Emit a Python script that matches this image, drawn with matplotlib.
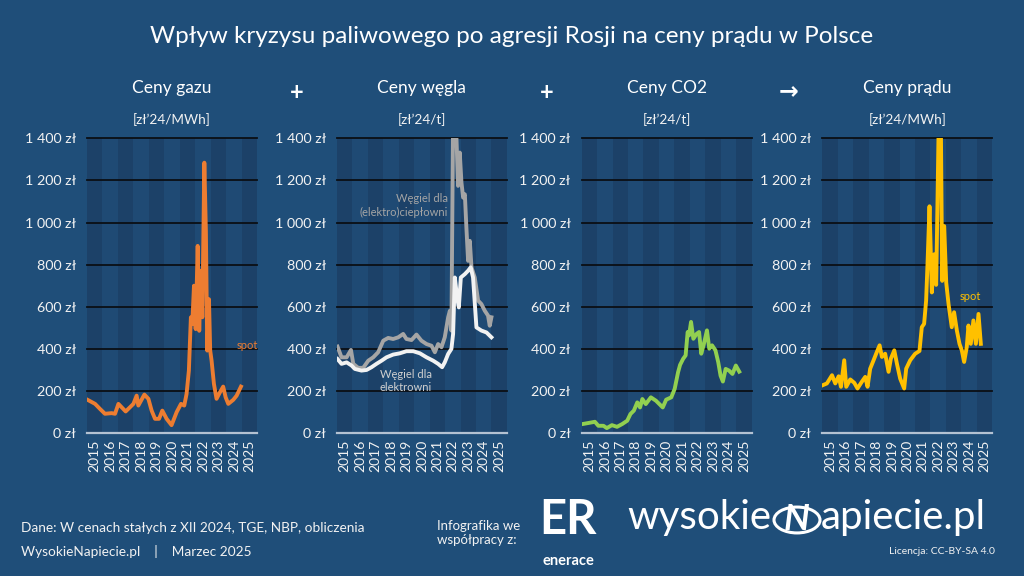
import matplotlib
matplotlib.use("Agg")
import matplotlib.pyplot as plt
from matplotlib.patches import Circle

plt.rcParams["font.family"] = ["Lato", "DejaVu Sans"]

# ---- data (decimal years) ----
years = list(range(2015, 2026))
yticks = [0, 200, 400, 600, 800, 1000, 1200, 1400]
ytick_labels = ["0 zł", "200 zł", "400 zł", "600 zł", "800 zł", "1 000 zł", "1 200 zł", "1 400 zł"]

gas_t = [2015.04, 2015.52, 2015.84, 2016.16, 2016.59, 2016.81, 2017.03, 2017.24, 2017.50, 2017.78,
         2018.00, 2018.21, 2018.32, 2018.71, 2018.97, 2019.18, 2019.40, 2019.66, 2019.87, 2020.15,
         2020.47, 2020.80, 2021.08, 2021.29, 2021.44, 2021.59, 2021.72, 2021.81, 2021.92, 2022.03,
         2022.16, 2022.26, 2022.37, 2022.46, 2022.59, 2022.69, 2022.78, 2022.89, 2022.97, 2023.06,
         2023.21, 2023.38, 2023.60, 2023.81, 2023.97, 2024.14, 2024.46, 2024.68, 2024.96]
gas_v = [158, 139, 115, 92, 95, 92, 139, 123, 103, 123,
         139, 178, 131, 183, 163, 107, 68, 68, 107, 68,
         38, 100, 139, 131, 186, 297, 550, 518, 700, 494,
         889, 486, 771, 550, 1284, 960, 392, 636, 392, 344,
         234, 163, 194, 221, 170, 139, 158, 178, 221]

coal_heat_t = [2015.04, 2015.30, 2015.63, 2015.91, 2016.06, 2016.38, 2016.70, 2017.03, 2017.35, 2017.67,
               2018.00, 2018.32, 2018.64, 2018.97, 2019.29, 2019.50, 2019.83, 2020.15, 2020.47, 2020.80,
               2021.12, 2021.34, 2021.55, 2021.77, 2021.98, 2022.20, 2022.31, 2022.41, 2022.52, 2022.66,
               2022.74, 2022.84, 2022.95, 2023.06, 2023.17, 2023.28, 2023.38, 2023.49, 2023.60, 2023.71,
               2023.92, 2024.14, 2024.35, 2024.57, 2024.78, 2024.89, 2025.00]
coal_heat_v = [411, 360, 360, 395, 329, 310, 310, 344, 360, 384,
               439, 452, 447, 455, 471, 447, 442, 468, 439, 423,
               415, 384, 423, 408, 455, 550, 581, 487, 1500, 1500,
               1395, 1174, 1332, 1190, 1118, 1134, 976, 818, 913, 787,
               739, 629, 613, 581, 558, 510, 550]

coal_power_t = [2015.04, 2015.30, 2015.63, 2015.95, 2016.16, 2016.59, 2016.92, 2017.24, 2017.56, 2017.89,
                2018.21, 2018.64, 2019.07, 2019.50, 2019.94, 2020.37, 2020.80, 2021.23, 2021.55, 2021.81,
                2021.98, 2022.20, 2022.41, 2022.52, 2022.63, 2022.78, 2022.89, 2023.02, 2023.28, 2023.49,
                2023.66, 2023.81, 2024.03, 2024.35, 2024.68, 2025.00]
coal_power_v = [352, 329, 336, 321, 305, 297, 300, 313, 329, 344,
                360, 373, 379, 389, 389, 379, 360, 344, 329, 313,
                336, 376, 400, 471, 739, 645, 597, 739, 755, 771,
                787, 739, 502, 487, 478, 455]

co2_t = [2015.04, 2015.42, 2015.86, 2016.08, 2016.41, 2016.63, 2016.96, 2017.29, 2017.62, 2017.95,
         2018.16, 2018.38, 2018.60, 2018.78, 2018.93, 2019.15, 2019.48, 2019.81, 2020.03, 2020.25,
         2020.47, 2020.80, 2021.02, 2021.24, 2021.37, 2021.57, 2021.73, 2021.86, 2021.95, 2022.08,
         2022.23, 2022.45, 2022.60, 2022.74, 2022.89, 2023.11, 2023.26, 2023.44, 2023.66, 2023.84,
         2023.99, 2024.14, 2024.32, 2024.54, 2024.76, 2024.98, 2025.20]
co2_v = [43, 48, 54, 35, 35, 24, 38, 30, 43, 59,
         91, 107, 146, 122, 162, 138, 170, 154, 138, 122,
         159, 170, 210, 289, 324, 353, 369, 480, 464, 528,
         448, 472, 480, 377, 417, 488, 401, 417, 393, 337,
         273, 245, 305, 297, 281, 321, 292]

power_t = [2015.04, 2015.30, 2015.63, 2015.84, 2016.06, 2016.21, 2016.42, 2016.55, 2016.81, 2017.07,
           2017.28, 2017.56, 2017.78, 2017.93, 2018.10, 2018.32, 2018.53, 2018.71, 2018.86, 2019.07,
           2019.29, 2019.44, 2019.66, 2019.83, 2020.04, 2020.30, 2020.43, 2020.69, 2021.01, 2021.29,
           2021.44, 2021.59, 2021.72, 2021.81, 2021.94, 2022.09, 2022.24, 2022.37, 2022.46, 2022.54,
           2022.67, 2022.76, 2022.89, 2023.02, 2023.17, 2023.38, 2023.53, 2023.71, 2023.88, 2024.03,
           2024.18, 2024.35, 2024.46, 2024.61, 2024.78, 2024.94, 2025.11, 2025.26]
power_v = [228, 236, 275, 236, 270, 220, 346, 220, 255, 239,
           212, 244, 267, 220, 306, 346, 385, 417, 362, 377,
           291, 354, 393, 330, 259, 212, 306, 346, 377, 390,
           503, 519, 629, 802, 1077, 668, 849, 704, 1117, 1500,
           1500, 723, 983, 715, 613, 503, 574, 487, 424, 393,
           338, 409, 511, 424, 535, 424, 566, 424]

# ---- styling ----
BG = "#1F4E79"
BAND_DARK = "#1C4168"
BAND_LIGHT = "#1F4A74"
TXT = "#F2F2F2"
LW = 2.8

fig = plt.figure(figsize=(10.24, 5.76), dpi=100, facecolor=BG)

fig.text(0.5, 0.936, "Wpływ kryzysu paliwowego po agresji Rosji na ceny prądu w Polsce",
         ha="center", va="center", color="white", fontsize=17.5)

panels = [
    (0.085, "Ceny gazu", "[zł’24/MWh]"),
    (0.329, "Ceny węgla", "[zł’24/t]"),
    (0.568, "Ceny CO2", "[zł’24/t]"),
    (0.803, "Ceny prądu", "[zł’24/MWh]"),
]
bottom, height, width = 0.248, 0.512, 0.166

axes = []
for left, title, unit in panels:
    ax = fig.add_axes([left, bottom, width, height])
    ax.set_facecolor(BAND_LIGHT)
    for i, yr in enumerate(years):
        ax.axvspan(yr, yr + 1, color=BAND_DARK if i % 2 == 0 else BAND_LIGHT, lw=0, zorder=0)
    for yv in yticks[1:]:
        ax.axhline(yv, color="#0B0F14", lw=1.3, zorder=1, clip_on=False)
    ax.axhline(0, color="#B4C2D2", lw=1.6, zorder=1, clip_on=False)
    ax.set_xlim(2015, 2026)
    ax.set_ylim(0, 1400)
    ax.set_yticks(yticks)
    ax.set_yticklabels(ytick_labels)
    ax.set_xticks([y + 0.5 for y in years])
    ax.set_xticklabels([str(y) for y in years], rotation=90)
    ax.tick_params(length=0, colors=TXT, labelsize=10.3, pad=8)
    ax.tick_params(axis="x", labelsize=10, pad=5)
    for s in ax.spines.values():
        s.set_visible(False)
    cx = left + width / 2
    fig.text(cx, 0.847, title, ha="center", va="center", color="white", fontsize=12.5)
    fig.text(cx, 0.792, unit, ha="center", va="center", color=TXT, fontsize=9.8)
    axes.append(ax)

ax1, ax2, ax3, ax4 = axes
ax1.plot(gas_t, gas_v, color="#ED7D31", lw=LW, zorder=3, solid_joinstyle="round")
ax1.text(2025.4, 418, "spot", color="#ED7D31", fontsize=8, ha="center", va="center")

ax2.plot(coal_heat_t, coal_heat_v, color="#A5A5A5", lw=LW, zorder=3, solid_joinstyle="round")
ax2.plot(coal_power_t, coal_power_v, color="#F2F2F2", lw=LW, zorder=4, solid_joinstyle="round")
ax2.text(2022.17, 1082, "Węgiel dla\n(elektro)ciepłowni", color="#A5A5A5", fontsize=8,
         ha="right", va="center", multialignment="right", linespacing=1.3)
ax2.text(2019.47, 247, "Węgiel dla\nelektrowni", color="#D0D0D0", fontsize=8,
         ha="center", va="center", linespacing=1.3)

ax3.plot(co2_t, co2_v, color="#92D050", lw=LW, zorder=3, solid_joinstyle="round")

ax4.plot(power_t, power_v, color="#FFC000", lw=LW, zorder=3, solid_joinstyle="round")
ax4.text(2024.6, 648, "spot", color="#FFC000", fontsize=8, ha="center", va="center")

# operators between panels
fig.text(297 / 1024, 1 - 93 / 576, "+", ha="center", va="center", color="white",
         fontsize=17, fontweight="bold")
fig.text(547 / 1024, 1 - 93 / 576, "+", ha="center", va="center", color="white",
         fontsize=17, fontweight="bold")
fig.text(789 / 1024, 1 - 91 / 576, "→", ha="center", va="center", color="white",
         fontsize=17, fontweight="bold", family=["DejaVu Sans"])

# footer
fig.text(21 / 1024, 1 - 528 / 576, "Dane: W cenach stałych z XII 2024, TGE, NBP, obliczenia",
         ha="left", va="center", color=TXT, fontsize=9.8)
fig.text(21 / 1024, 1 - 551 / 576, "WysokieNapiecie.pl    |    Marzec 2025",
         ha="left", va="center", color=TXT, fontsize=9.8)
fig.text(437 / 1024, 1 - 533 / 576, "Infografika we\nwspółpracy z:", ha="left", va="center",
         color=TXT, fontsize=9.5, linespacing=1.25)
fig.text(568 / 1024, 1 - 520 / 576, "ER", ha="center", va="center", color="white",
         fontsize=34, fontweight="bold")
fig.text(568 / 1024, 1 - 561 / 576, "enerace", ha="center", va="center", color="white",
         fontsize=10.5, fontweight="bold")

fig.text(771 / 1024, 1 - 518 / 576, "wysokie", ha="right", va="center", color="white", fontsize=29)
fig.text(821 / 1024, 1 - 518 / 576, "apiecie.pl", ha="left", va="center", color="white", fontsize=29)
circ = Circle((797 / 1024, 1 - 520 / 576), 23 / 1024, transform=fig.transFigure,
              fill=False, edgecolor="white", lw=2.2)
circ.set_transform(fig.transFigure)
fig.add_artist(circ)
fig.text(797 / 1024, 1 - 520 / 576, "N", ha="center", va="center", color="white",
         fontsize=26, fontweight="bold", style="italic")
fig.text(995 / 1024, 1 - 551 / 576, "Licencja: CC-BY-SA 4.0", ha="right", va="center",
         color=TXT, fontsize=7.5)

fig.savefig("out.png", dpi=100, facecolor=BG)
